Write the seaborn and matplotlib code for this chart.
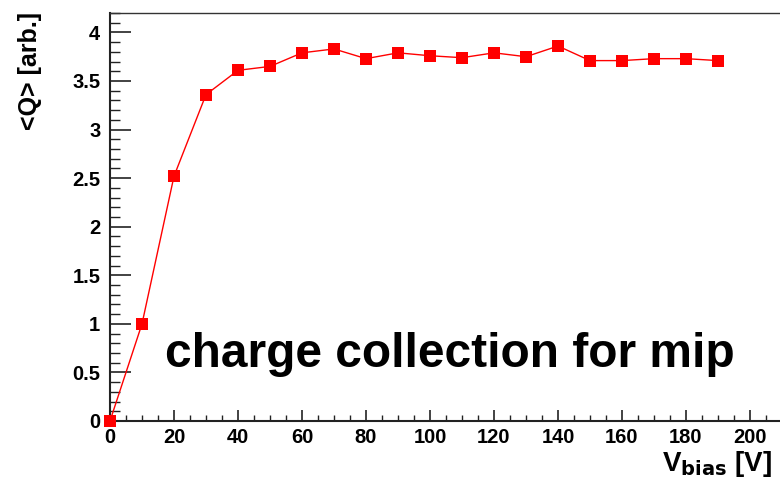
import matplotlib
matplotlib.use("Agg")
import matplotlib.pyplot as plt
import seaborn as sns
import pandas as pd
from matplotlib.ticker import MultipleLocator

v_bias = [0, 10, 20, 30, 40, 50, 60, 70, 80, 90, 100, 110, 120, 130, 140, 150, 160, 170, 180, 190]
charge = [0.0, 1.0, 2.52, 3.36, 3.61, 3.65, 3.79, 3.83, 3.73, 3.79, 3.76, 3.74, 3.79, 3.75, 3.86, 3.71, 3.71, 3.73, 3.73, 3.71]
x_ticks = [0, 20, 40, 60, 80, 100, 120, 140, 160, 180, 200]
y_ticks = [0, 0.5, 1, 1.5, 2, 2.5, 3, 3.5, 4]
y_ticklabels = ["0", "0.5", "1", "1.5", "2", "2.5", "3", "3.5", "4"]

sns.set_theme(style="white")
plt.rcParams["font.family"] = ["Liberation Sans", "DejaVu Sans"]
plt.rcParams["text.color"] = "black"
plt.rcParams["xtick.color"] = "black"
plt.rcParams["ytick.color"] = "black"
plt.rcParams["xtick.labelcolor"] = "black"
plt.rcParams["ytick.labelcolor"] = "black"

df = pd.DataFrame({"V": v_bias, "Q": charge})

fig = plt.figure(figsize=(7.8, 4.79), dpi=100)
ax = fig.add_axes([110/780, 1-421/479, 672/780, (421-13)/479])

sns.lineplot(data=df, x="V", y="Q", ax=ax, color="red", linewidth=1.0,
             marker="s", markersize=8, markeredgewidth=0, clip_on=False, zorder=5)

ax.set_xlim(0, 210)
ax.set_ylim(0, 4.2)
ax.set_xticks(x_ticks)
ax.set_xticklabels([str(t) for t in x_ticks])
ax.set_yticks(y_ticks)
ax.set_yticklabels(y_ticklabels)
ax.xaxis.set_minor_locator(MultipleLocator(5))
ax.yaxis.set_minor_locator(MultipleLocator(0.1))

ax.tick_params(axis="y", which="major", direction="in", length=15, width=1.2, color="#222222", pad=7,
               labelsize=14.5, left=True, labelcolor="black")
ax.tick_params(axis="y", which="minor", direction="in", length=7.5, width=1.0, color="#222222", left=True)
ax.tick_params(axis="x", which="major", direction="in", length=8, width=1.2, color="#222222", pad=5,
               labelsize=14.5, bottom=True, labelcolor="black")
ax.tick_params(axis="x", which="minor", direction="in", length=4, width=1.0, color="#222222", bottom=True)
for lab in ax.get_xticklabels() + ax.get_yticklabels():
    lab.set_fontweight("bold")

for s in ["left", "bottom"]:
    ax.spines[s].set_color("#222222")
    ax.spines[s].set_linewidth(1.5)
ax.spines["top"].set_color("#333333")
ax.spines["top"].set_linewidth(1.0)
ax.spines["right"].set_visible(False)

ax.set_xlabel("")
ax.set_ylabel("")
ax.grid(False)

fig.text(30/780, 1-12/479, "<Q> [arb.]", rotation=90, ha="center", va="top",
         fontsize=18, fontweight="bold", color="black")
fig.text(0.99, 1-449/479, r"V$_{\mathbf{bias}}$ [V]", ha="right", va="top",
         fontsize=20, fontweight="bold", color="black")
fig.text(165/780, 1-367/479, "charge collection for mip", ha="left", va="baseline",
         fontsize=34.5, fontweight="bold", color="black")

fig.savefig("out.png", dpi=100)
